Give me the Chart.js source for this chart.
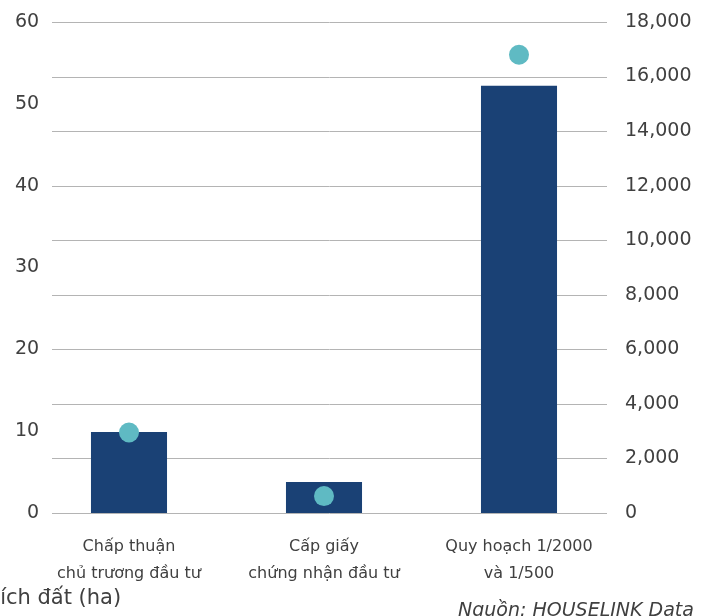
<!DOCTYPE html>
<html>
<head>
<meta charset="utf-8">
<script src="https://cdn.jsdelivr.net/npm/chart.js@4.4.1/dist/chart.umd.min.js"></script>
<style>
  html, body { margin: 0; padding: 0; background: #fff; overflow: hidden; }
  #wrap { position: relative; width: 710px; height: 616px; }
  #chart { position: absolute; left: 0; top: 0; }
  .note { position: absolute; white-space: nowrap; font-family: "DejaVu Sans", sans-serif; color: #404040; }
  #legendText { left: -63px; top: 585px; font-size: 21px; }
  #source { left: 458px; top: 598px; font-size: 19px; font-style: italic; }
</style>
</head>
<body>
<div id="wrap">
  <canvas id="chart" width="710" height="616"></canvas>
  <div class="note" id="legendText">Diện tích đất (ha)</div>
  <div class="note" id="source">Nguồn: HOUSELINK Data</div>
</div>
<script>
const categories = [
  ['Chấp thuận', 'chủ trương đầu tư'],
  ['Cấp giấy', 'chứng nhận đầu tư'],
  ['Quy hoạch 1/2000', 'và 1/500']
];
const dienTich = [9.9, 3.8, 52.2];
const vonDauTu = [2950, 620, 16800];
const leftTicks = [0, 10, 20, 30, 40, 50, 60];
const rightTicks = [0, 2000, 4000, 6000, 8000, 10000, 12000, 14000, 16000, 18000];

const textColor = '#404040';
const gridColor = '#b4b4b4';

// gridlines follow the right axis, but only span between the two label columns
const gridPlugin = {
  id: 'gridLines',
  beforeDatasetsDraw(chart) {
    const ctx = chart.ctx;
    const y2 = chart.scales.y2;
    ctx.save();
    ctx.strokeStyle = gridColor;
    ctx.lineWidth = 1;
    rightTicks.forEach(v => {
      const y = Math.round(y2.getPixelForValue(v)) + 0.5;
      ctx.beginPath();
      ctx.moveTo(52, y);
      ctx.lineTo(607, y);
      ctx.stroke();
    });
    ctx.restore();
  }
};

new Chart(document.getElementById('chart'), {
  data: {
    labels: categories,
    datasets: [
      {
        type: 'line',
        label: 'Vốn đầu tư',
        data: vonDauTu,
        yAxisID: 'y2',
        showLine: false,
        pointRadius: 10,
        pointHoverRadius: 10,
        pointBackgroundColor: '#5fbac3',
        pointBorderWidth: 0,
        borderColor: '#5fbac3'
      },
      {
        type: 'bar',
        label: 'Diện tích đất (ha)',
        data: dienTich,
        yAxisID: 'y',
        backgroundColor: '#1a4175',
        categoryPercentage: 1,
        barPercentage: 0.39
      }
    ]
  },
  options: {
    responsive: false,
    animation: false,
    layout: { padding: { top: 22, left: 0, right: 0, bottom: 0 } },
    plugins: { legend: { display: false }, tooltip: { enabled: false } },
    scales: {
      x: {
        offset: true,
        grid: { display: false, drawTicks: false },
        border: { display: false },
        ticks: {
          color: textColor,
          padding: 20,
          maxRotation: 0,
          autoSkip: false,
          font: { family: 'DejaVu Sans', size: 16, lineHeight: 1.7 }
        },
        afterFit(scale) { scale.height = 103; }
      },
      y: {
        position: 'left',
        min: 0,
        max: 60,
        afterBuildTicks(scale) { scale.ticks = leftTicks.map(v => ({ value: v })); },
        grid: { display: false, drawTicks: false },
        border: { display: false },
        ticks: {
          color: textColor,
          mirror: true,
          crossAlign: 'far',
          padding: -16.5,
          font: { family: 'DejaVu Sans', size: 19 }
        },
        afterFit(scale) { scale.width = 31.5; }
      },
      y2: {
        position: 'right',
        min: 0,
        max: 18000,
        afterBuildTicks(scale) { scale.ticks = rightTicks.map(v => ({ value: v })); },
        grid: { display: false, drawTicks: false },
        border: { display: false },
        ticks: {
          color: textColor,
          padding: 8.5,
          font: { family: 'DejaVu Sans', size: 19 }
        },
        afterFit(scale) { scale.width = 93.5; }
      }
    }
  },
  plugins: [gridPlugin]
});
</script>
</body>
</html>
